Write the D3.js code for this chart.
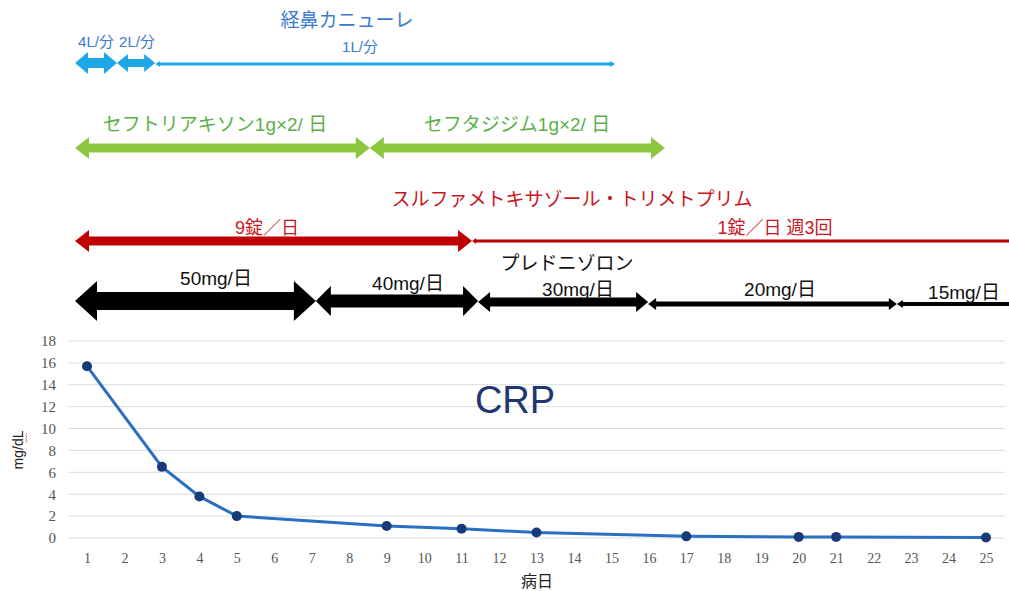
<!DOCTYPE html>
<html lang="ja">
<head>
    <meta charset="UTF-8">
    <title>CRP 経過</title>
    <script src="https://d3js.org/d3.v7.min.js"></script>
    <style>
        body { margin: 0; background: #fff; }
        svg text { font-family: "Liberation Sans", "Noto Sans CJK JP", sans-serif; }
        .tick text { font-family: "Liberation Serif", serif; }
    </style>
</head>
<body>
    <div id="chart"></div>
    <script>
        // CRP data (day, mg/dL)
        const days = [1, 3, 4, 5, 9, 11, 13, 17, 20, 21, 25];
        const crp = [15.7, 6.5, 3.8, 2.0, 1.1, 0.85, 0.5, 0.15, 0.1, 0.1, 0.05];
        const xTicks = d3.range(1, 26);
        const yTicks = [0, 2, 4, 6, 8, 10, 12, 14, 16, 18];

        // treatment periods (start day, end day)
        const o2Labels = ["4L/分", "2L/分", "1L/分"];
        const o2Spans = [[0.68, 1.8], [1.8, 2.82], [2.82, 15.1]];
        const abxLabels = ["セフトリアキソン1g×2/ 日", "セフタジジム1g×2/ 日"];
        const abxSpans = [[0.68, 8.55], [8.55, 16.43]];
        const stLabels = ["9錠／日", "1錠／日 週3回"];
        const stSpans = [[0.68, 11.28], [11.28, 26]];
        const psLabels = ["50mg/日", "40mg/日", "30mg/日", "20mg/日", "15mg/日"];
        const psSpans = [[0.68, 7.11], [7.11, 11.44], [11.44, 15.98], [15.98, 22.62], [22.62, 26]];

        const width = 1009;
        const height = 591;

        const svg = d3.select("#chart")
            .append("svg")
            .attr("width", width)
            .attr("height", height);

        const x = d3.scaleLinear().domain([1, 25]).range([87, 986]);
        const y = d3.scaleLinear().domain([0, 18]).range([538, 341]);

        // gridlines
        svg.append("g")
            .selectAll("line")
            .data(yTicks)
            .enter()
            .append("line")
            .attr("x1", 68)
            .attr("x2", 1005)
            .attr("y1", d => y(d))
            .attr("y2", d => y(d))
            .attr("stroke", "#dcdcdc")
            .attr("stroke-width", 1);

        // axes (labels only)
        const yAxis = svg.append("g")
            .attr("transform", "translate(56,0)")
            .call(d3.axisLeft(y).tickValues(yTicks).tickSize(0).tickPadding(0));
        yAxis.select(".domain").remove();
        yAxis.selectAll("text").attr("font-size", 15).attr("fill", "#555");

        const xAxis = svg.append("g")
            .attr("transform", "translate(0,553)")
            .call(d3.axisBottom(x).tickValues(xTicks).tickFormat(d3.format("d")).tickSize(0).tickPadding(0));
        xAxis.select(".domain").remove();
        xAxis.selectAll("text").attr("font-size", 14).attr("fill", "#555");

        // axis titles
        svg.append("text")
            .attr("transform", "translate(23,450) rotate(-90)")
            .attr("text-anchor", "middle")
            .attr("font-size", 14)
            .attr("fill", "#222")
            .text("mg/dL");
        svg.append("path")
            .attr("d", "M27,434 l-1.5,1.5 l1.5,1.5 l-1.5,1.5 l1.5,1.5 l-1.5,1.5 l1.5,1.5")
            .attr("fill", "none")
            .attr("stroke", "#e05050")
            .attr("stroke-width", 0.8);
        svg.append("text")
            .attr("x", 537)
            .attr("y", 587)
            .attr("text-anchor", "middle")
            .attr("font-size", 16)
            .attr("fill", "#222")
            .text("病日");

        svg.append("text")
            .attr("x", 515)
            .attr("y", 413)
            .attr("text-anchor", "middle")
            .attr("font-size", 38)
            .attr("fill", "#1f3670")
            .text("CRP");

        // CRP line
        const pts = days.map((d, i) => ({day: d, v: crp[i]}));
        svg.append("path")
            .datum(pts)
            .attr("d", d3.line().x(d => x(d.day)).y(d => y(d.v)))
            .attr("fill", "none")
            .attr("stroke", "#2a6fc2")
            .attr("stroke-width", 3);
        svg.selectAll("circle.pt")
            .data(pts)
            .enter()
            .append("circle")
            .attr("class", "pt")
            .attr("cx", d => x(d.day))
            .attr("cy", d => y(d.v))
            .attr("r", 5)
            .attr("fill", "#173a78");

        // double-headed arrow shape
        function arrow(x0, x1, yc, t, h, L) {
            return [
                [x0, yc], [x0 + L, yc - h], [x0 + L, yc - t], [x1 - L, yc - t],
                [x1 - L, yc - h], [x1, yc], [x1 - L, yc + h], [x1 - L, yc + t],
                [x0 + L, yc + t], [x0 + L, yc + h]
            ].map(p => p.join(",")).join(" ");
        }

        function drawRow(spans, yc, color, sizes) {
            svg.append("g")
                .selectAll("polygon")
                .data(spans)
                .enter()
                .append("polygon")
                .attr("points", (d, i) => arrow(x(d[0]), x(d[1]), yc[i], sizes[i][0], sizes[i][1], sizes[i][2]))
                .attr("fill", color);
        }

        function drawLabels(labels, xs, ys, color, size) {
            svg.append("g")
                .selectAll("text")
                .data(labels)
                .enter()
                .append("text")
                .attr("x", (d, i) => xs[i])
                .attr("y", (d, i) => ys[i])
                .attr("text-anchor", "middle")
                .attr("font-size", size)
                .attr("fill", color)
                .text(d => d);
        }

        // oxygen
        drawRow(o2Spans, [63, 63, 64], "#1ea7e6", [[5, 11, 13], [4, 9, 11], [1.5, 3, 5]]);
        drawLabels(["経鼻カニューレ"], [347], [27], "#3a7bd0", 19);
        drawLabels(o2Labels, [96, 137, 360], [47, 47, 52], "#3a7bd0", 15);

        // antibiotics
        drawRow(abxSpans, [148, 148], "#8dc63f", [[4.5, 11, 14], [4.5, 11, 14]]);
        drawLabels(abxLabels, [215, 517], [131, 131], "#5bb04a", 19);

        // ST combination
        drawRow(stSpans, [241, 241], "#c00000", [[4.5, 11, 14], [1.5, 3, 4]]);
        drawLabels(["スルファメトキサゾール・トリメトプリム"], [572], [206], "#c8161d", 19);
        drawLabels(stLabels, [267, 775], [234, 234], "#c8161d", 18);

        // prednisolone
        drawRow(psSpans, [301, 301, 302, 304, 304], "#000",
            [[9, 20, 22], [6.5, 15, 15], [4.5, 10, 12], [2.5, 6, 8], [2, 4, 6]]);
        drawLabels(["プレドニゾロン"], [567], [270], "#111", 19);
        drawLabels(psLabels, [216, 408, 578, 780, 964], [285, 290, 296, 296, 299], "#111", 19);
    </script>
</body>
</html>
